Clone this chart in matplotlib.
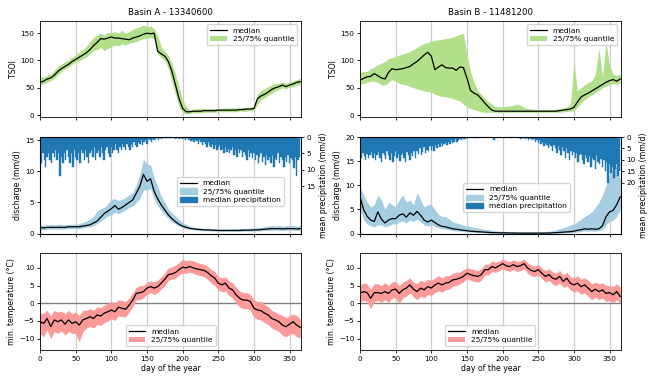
import numpy as np
import matplotlib
matplotlib.use("Agg")
import matplotlib.pyplot as plt
from matplotlib.patches import Patch
from matplotlib.lines import Line2D

# day of year grid (every 5 days) for discharge / TSOI / temperature
days = list(range(0, 366, 5))
# day grid (every 2 days) for precipitation
pdays = list(range(0, 366, 2))

tsoi_a_med = [60, 62, 66, 68, 73, 80, 85, 89, 93, 98,
              102, 106, 110, 114, 120, 127, 133, 140, 139, 141,
              143, 141, 141, 140, 139, 138, 141, 143, 145, 148,
              150, 149, 150, 117, 112, 108, 98, 80, 55, 30,
              12, 6, 6, 7, 7, 7, 8, 8, 8, 8,
              9, 9, 9, 9, 9, 9, 10, 10, 11, 11,
              12, 30, 35, 38, 42, 47, 50, 52, 55, 52,
              55, 57, 60, 61]
tsoi_a_lo = [55, 57, 60, 63, 67, 74, 80, 84, 88, 93,
             97, 100, 103, 106, 112, 118, 120, 124, 118, 122,
             125, 128, 127, 130, 128, 132, 133, 135, 138, 140,
             141, 142, 140, 112, 105, 100, 85, 60, 38, 15,
             4, 2, 3, 4, 4, 4, 5, 5, 5, 5,
             6, 6, 6, 6, 6, 6, 7, 7, 7, 8,
             8, 20, 28, 32, 36, 40, 44, 47, 50, 48,
             51, 52, 55, 55]
tsoi_a_hi = [70, 70, 73, 75, 82, 89, 93, 98, 101, 106,
             110, 115, 120, 126, 134, 142, 147, 150, 146, 152,
             150, 153, 150, 155, 150, 153, 157, 160, 162, 165,
             162, 163, 158, 145, 125, 117, 108, 95, 75, 50,
             28, 15, 10, 11, 12, 12, 12, 12, 12, 12,
             12, 12, 13, 13, 13, 13, 13, 14, 14, 15,
             15, 38, 45, 48, 52, 55, 58, 58, 60, 58,
             60, 62, 65, 68]

tsoi_b_med = [64, 67, 70, 71, 76, 72, 68, 66, 78, 85,
              83, 84, 85, 87, 89, 94, 98, 104, 110, 115,
              108, 83, 88, 92, 87, 86, 86, 82, 88, 87,
              68, 45, 40, 37, 30, 22, 15, 9, 7, 7,
              7, 7, 7, 7, 7, 7, 7, 7, 7, 7,
              7, 7, 7, 7, 7, 7, 8, 9, 10, 11,
              14, 24, 33, 37, 40, 44, 48, 52, 56, 60,
              63, 65, 62, 66]
tsoi_b_lo = [56, 58, 60, 62, 62, 60, 55, 55, 60, 65,
             62, 58, 56, 55, 52, 50, 48, 46, 44, 43,
             42, 38, 36, 34, 33, 32, 30, 28, 26, 20,
             15, 12, 10, 8, 6, 5, 5, 5, 5, 5,
             5, 5, 5, 5, 5, 5, 5, 5, 5, 5,
             5, 5, 5, 5, 5, 5, 5, 6, 6, 7,
             8, 15, 22, 28, 33, 37, 41, 45, 50, 53,
             56, 58, 56, 60]
tsoi_b_hi = [78, 80, 80, 85, 88, 92, 95, 98, 103, 105,
             107, 110, 112, 114, 117, 120, 124, 128, 131, 133,
             135, 137, 138, 139, 140, 141, 143, 145, 148, 150,
             110, 80, 60, 45, 38, 30, 25, 20, 16, 15,
             15, 16, 17, 18, 20, 18, 14, 12, 11, 10,
             10, 10, 10, 10, 10, 11, 12, 13, 15, 20,
             95, 45, 50, 55, 60, 62, 75, 122, 70, 135,
             90, 75, 72, 75]

q_a_med = [1.0, 0.9, 1.0, 1.0, 1.0, 1.0, 1.0, 1.0, 1.1, 1.1,
           1.1, 1.1, 1.2, 1.3, 1.4, 1.7, 2.0, 2.6, 3.2, 3.6,
           4.0, 4.5, 3.9, 4.2, 4.6, 5.0, 5.4, 6.5, 7.6, 9.5,
           8.4, 8.8, 6.8, 5.6, 4.6, 3.8, 3.0, 2.4, 1.9, 1.5,
           1.2, 1.0, 0.85, 0.75, 0.7, 0.65, 0.6, 0.6, 0.55, 0.55,
           0.5, 0.5, 0.5, 0.5, 0.5, 0.5, 0.5, 0.55, 0.55, 0.55,
           0.6, 0.6, 0.65, 0.7, 0.75, 0.8, 0.8, 0.8, 0.75, 0.8,
           0.8, 0.8, 0.75, 0.8]
q_a_lo = [0.6, 0.6, 0.7, 0.7, 0.7, 0.7, 0.7, 0.75, 0.8, 0.8,
          0.8, 0.8, 0.9, 1.0, 1.1, 1.3, 1.6, 2.0, 2.4, 2.8,
          3.0, 3.4, 3.2, 3.5, 3.8, 4.2, 4.4, 5.0, 5.6, 7.0,
          7.0, 7.2, 5.5, 4.5, 3.6, 3.0, 2.4, 1.9, 1.5, 1.2,
          0.95, 0.8, 0.7, 0.6, 0.55, 0.5, 0.45, 0.45, 0.42, 0.4,
          0.4, 0.38, 0.38, 0.38, 0.38, 0.38, 0.38, 0.4, 0.4, 0.4,
          0.42, 0.42, 0.45, 0.5, 0.5, 0.55, 0.55, 0.55, 0.5, 0.55,
          0.55, 0.55, 0.5, 0.55]
q_a_hi = [1.3, 1.4, 1.4, 1.5, 1.4, 1.5, 1.5, 1.4, 1.5, 1.5,
          1.5, 1.6, 1.8, 2.0, 2.3, 2.8, 3.6, 4.0, 4.2, 4.8,
          5.5, 5.6, 5.3, 5.5, 5.8, 6.2, 6.6, 7.8, 9.5, 12.0,
          11.2, 11.0, 9.0, 7.5, 6.0, 5.0, 4.0, 3.3, 2.8, 2.3,
          1.8, 1.5, 1.2, 1.05, 0.95, 0.9, 0.85, 0.85, 0.8, 0.8,
          0.75, 0.75, 0.75, 0.8, 0.8, 0.8, 0.8, 0.85, 0.85, 0.9,
          0.9, 1.0, 1.0, 1.1, 1.2, 1.3, 1.2, 1.3, 1.2, 1.3,
          1.3, 1.3, 1.2, 1.3]

p_a = [6, 8, 5, 7, 9, 6, 5, 7, 8, 5,
       6, 4, 7, 5, 12, 6, 8, 5, 7, 4,
       6, 8, 5, 9, 4, 6, 7, 5, 8, 4,
       5, 7, 4, 6, 8, 5, 4, 6, 3, 7,
       5, 4, 6, 3, 5, 7, 4, 3, 5, 6,
       3, 5, 4, 2, 4, 5, 3, 4, 2, 3,
       4, 2, 3, 4, 2, 3, 1.5, 2.5, 3, 1.5,
       2, 1, 2.5, 1.5, 1, 2, 0.5, 1, 1.5, 0.5,
       1, 0.5, 0.3, 0.8, 0.3, 0.5, 0.2, 0.4, 0.2, 0.3,
       0.2, 0.4, 0.1, 0.3, 0.2, 0.5, 0.2, 0.3, 0.6, 0.3,
       0.5, 0.3, 0.8, 0.4, 1, 0.6, 1.2, 0.8, 1.5, 1,
       1.2, 2, 1, 1.5, 2.5, 1.5, 2, 3, 1.5, 2.5,
       3, 2, 3.5, 2.5, 4, 3, 2.5, 4, 3.5, 5,
       3, 4.5, 3.5, 5, 4, 3, 5.5, 4, 6, 3.5,
       5, 4, 6, 4.5, 5.5, 7, 4, 6, 5, 6.5,
       5, 7, 5.5, 8, 6, 5, 7.5, 6, 8.5, 5.5,
       7, 6, 8, 5.5, 9, 6.5, 7, 5, 8, 6,
       7, 9, 6, 7.5, 5.5, 8, 6.5, 7, 9.5, 6,
       12, 7, 6]

q_b_med = [7.6, 5.0, 3.6, 2.8, 2.5, 4.5, 3.0, 2.2, 2.8, 3.1,
           3.1, 3.8, 4.1, 3.4, 4.3, 3.8, 4.6, 3.8, 2.8, 2.4,
           2.8, 2.3, 1.8, 1.5, 1.4, 1.2, 1.0, 0.9, 0.8, 0.7,
           0.6, 0.5, 0.45, 0.4, 0.35, 0.3, 0.25, 0.2, 0.2, 0.15,
           0.15, 0.15, 0.12, 0.12, 0.1, 0.1, 0.1, 0.1, 0.1, 0.1,
           0.1, 0.1, 0.1, 0.12, 0.15, 0.2, 0.25, 0.3, 0.35, 0.4,
           0.5, 0.7, 0.8, 1.0, 0.9, 1.0, 0.9, 1.0, 1.6, 3.5,
           4.5, 4.8, 6.0, 7.6]
q_b_lo = [5.0, 3.0, 2.0, 1.6, 1.4, 1.8, 1.8, 1.4, 1.6, 2.0,
          2.0, 2.4, 2.6, 2.2, 2.8, 2.5, 3.0, 2.4, 1.8, 1.6,
          1.8, 1.5, 1.2, 1.0, 0.9, 0.8, 0.65, 0.55, 0.5, 0.45,
          0.4, 0.3, 0.25, 0.2, 0.18, 0.15, 0.12, 0.1, 0.1, 0.08,
          0.08, 0.06, 0.05, 0.05, 0.05, 0.05, 0.05, 0.05, 0.05, 0.05,
          0.05, 0.05, 0.05, 0.06, 0.08, 0.1, 0.12, 0.15, 0.18, 0.2,
          0.25, 0.35, 0.45, 0.55, 0.5, 0.55, 0.5, 0.6, 0.8, 1.8,
          2.5, 2.8, 3.5, 5.0]
q_b_hi = [9.5, 8.0, 6.5, 5.5, 6.0, 8.0, 7.0, 5.0, 6.5, 6.0,
          5.5, 7.0, 8.0, 6.5, 7.0, 6.0, 8.5, 7.0, 5.5, 6.0,
          6.0, 5.0, 4.0, 3.5, 3.5, 3.0, 2.5, 2.2, 2.0, 1.8,
          1.6, 1.5, 1.3, 1.2, 1.0, 0.9, 0.8, 0.7, 0.6, 0.5,
          0.5, 0.45, 0.4, 0.4, 0.35, 0.35, 0.35, 0.35, 0.35, 0.35,
          0.35, 0.35, 0.4, 0.5, 0.6, 0.8, 1.0, 1.2, 1.5, 1.8,
          2.0, 2.5, 3.0, 3.5, 4.0, 4.5, 5.5, 6.5, 8.0, 10.0,
          12.0, 13.5, 14.0, 11.0]

p_b = [8, 9, 7, 8.5, 10, 7.5, 9, 8, 6.5, 9,
       7, 10, 8, 6.5, 9, 11, 7, 8, 9.5, 6,
       8, 10, 7, 11, 8.5, 6, 9, 7.5, 10.5, 8,
       7, 9, 11, 6.5, 8, 10, 7, 8.5, 6, 9,
       6, 7.5, 5, 8, 6.5, 4.5, 7, 5.5, 6, 4,
       5.5, 4, 6, 3.5, 5, 3, 4.5, 2.5, 4, 3,
       2.5, 3.5, 2, 3, 1.5, 2.5, 2, 1, 2, 1.5,
       1, 1.5, 0.5, 1, 0.8, 0.3, 0.6, 0.2, 0.5, 0.2,
       0.3, 0.1, 0.4, 0.1, 0.2, 0.1, 0.3, 0.1, 0.1, 0.2,
       0.1, 0.1, 0.2, 0.1, 1.5, 0.1, 0.1, 0.2, 0.1, 0.1,
       0.1, 0.3, 0.1, 0.1, 0.2, 0.1, 0.5, 0.1, 0.2, 0.1,
       0.2, 0.5, 0.3, 0.8, 0.2, 0.6, 1, 0.4, 1.2, 0.5,
       1, 1.5, 0.8, 2, 1.2, 2.5, 1.5, 3, 2, 4,
       2.5, 3.5, 5, 3, 4, 6, 3.5, 5, 7, 4,
       5.5, 8, 4.5, 6, 9, 5, 7, 10, 6, 8,
       6.5, 9, 7, 11, 8, 7.5, 10, 12, 8, 9,
       11, 8.5, 13, 9, 10, 14, 8, 11, 12, 9.5,
       13, 10, 15, 11, 20, 12, 16, 13, 18, 14,
       12, 17, 15]

t_a_med = [-5.2, -5.7, -4.3, -6.6, -4.7, -5.2, -4.7, -5.9, -4.7, -5.7,
           -5.2, -6.2, -4.7, -4.3, -3.8, -4.3, -3.3, -3.6, -2.8, -2.4,
           -1.9, -2.4, -1.1, -1.4, -1.7, -0.5, 0.9, 2.8, 3.0, 3.3,
           4.3, 4.7, 4.3, 4.7, 5.7, 6.8, 8.1, 8.3, 8.7, 9.5,
           10.2, 10.0, 10.4, 10.0, 9.7, 9.5, 9.3, 8.7, 7.8, 7.1,
           5.7, 5.2, 5.7, 4.3, 3.8, 2.4, 1.4, 0.9, 0.9, 0.5,
           -1.4, -1.9, -2.1, -2.8, -3.3, -4.3, -4.7, -5.2, -6.2, -6.6,
           -5.9, -5.2, -6.2, -6.8]
t_a_lo = [-8.5, -9.5, -7.5, -10.0, -8.0, -8.5, -7.8, -9.0, -8.0, -8.5,
          -8.5, -11.0, -8.0, -7.0, -6.5, -7.0, -6.0, -6.2, -5.5, -5.0,
          -4.5, -4.8, -3.5, -3.8, -3.8, -2.5, -1.0, 1.0, 1.0, 1.5,
          2.5, 3.0, 2.5, 3.0, 4.0, 5.0, 6.5, 6.8, 7.0, 8.0,
          8.5, 8.5, 8.8, 8.5, 8.0, 7.8, 7.5, 6.8, 5.8, 5.0,
          3.8, 3.2, 3.5, 2.2, 1.5, 0.0, -1.0, -1.5, -1.5, -2.0,
          -4.0, -4.5, -4.8, -5.5, -6.0, -7.0, -7.5, -8.0, -9.0, -9.5,
          -8.8, -8.5, -9.5, -9.8]
t_a_hi = [-3.0, -2.8, -2.0, -3.5, -2.0, -2.5, -2.2, -3.0, -2.0, -3.0,
          -2.5, -3.5, -2.0, -2.0, -1.5, -2.0, -1.0, -1.2, -0.5, 0.0,
          0.5, 0.0, 1.0, 0.8, 0.5, 1.5, 3.0, 4.5, 5.0, 5.0,
          6.0, 6.3, 6.0, 6.5, 7.5, 8.5, 10.0, 10.3, 10.8, 11.5,
          12.5, 12.0, 12.2, 12.0, 11.5, 11.3, 11.0, 10.5, 9.5, 9.0,
          7.5, 7.2, 7.5, 6.3, 5.8, 4.5, 3.5, 3.0, 3.0, 2.5,
          1.0, 0.5, 0.5, -0.3, -1.0, -2.0, -2.5, -3.0, -3.5, -4.0,
          -3.5, -3.0, -3.5, -4.5]

t_b_med = [2.8, 3.3, 3.0, 1.4, 3.0, 3.0, 2.8, 3.3, 2.8, 3.8,
           4.0, 2.8, 3.8, 4.3, 5.2, 4.0, 3.3, 4.3, 3.8, 4.7,
           4.3, 5.2, 5.7, 5.2, 5.7, 5.9, 6.6, 6.8, 7.1, 7.6,
           8.5, 8.1, 7.8, 7.6, 8.1, 9.5, 9.5, 10.4, 10.0, 10.6,
           11.2, 10.6, 10.4, 10.9, 10.4, 10.6, 11.2, 10.0, 9.3, 9.0,
           9.5, 8.5, 7.6, 8.1, 7.1, 6.8, 7.6, 6.2, 7.1, 5.7,
           5.2, 5.7, 4.7, 5.2, 4.3, 3.3, 4.0, 3.3, 3.8, 2.8,
           3.0, 2.4, 3.3, 1.9]
t_b_lo = [0.5, 0.8, 0.5, -1.5, 0.5, 0.8, 0.3, 1.0, 0.2, 1.5,
          1.5, 0.0, 1.5, 2.0, 3.0, 1.8, 1.0, 2.0, 1.5, 2.5,
          2.2, 3.0, 3.5, 3.2, 3.8, 4.0, 4.8, 5.0, 5.5, 6.0,
          7.0, 6.5, 6.2, 6.0, 6.5, 8.0, 8.0, 9.0, 8.7, 9.2,
          9.8, 9.3, 9.0, 9.5, 9.0, 9.2, 9.8, 8.5, 7.8, 7.5,
          8.0, 7.0, 6.0, 6.5, 5.5, 5.0, 5.8, 4.5, 5.0, 3.8,
          3.2, 3.5, 2.5, 3.0, 2.0, 1.0, 1.8, 1.0, 1.5, 0.5,
          0.8, 0.2, 1.0, 0.0]
t_b_hi = [5.0, 5.8, 5.5, 4.0, 5.5, 5.5, 5.0, 5.8, 5.0, 6.0,
          6.2, 5.0, 6.0, 6.5, 7.2, 6.0, 5.5, 6.5, 6.0, 6.8,
          6.5, 7.2, 7.8, 7.2, 7.8, 7.8, 8.5, 8.8, 8.8, 9.5,
          10.0, 9.8, 9.5, 9.2, 9.8, 11.0, 11.0, 12.0, 11.5, 12.0,
          12.5, 12.0, 11.8, 12.3, 11.8, 12.0, 12.5, 11.5, 10.8, 10.5,
          11.0, 10.0, 9.2, 9.8, 8.8, 8.5, 9.3, 8.0, 8.8, 7.5,
          7.2, 7.8, 6.8, 7.2, 6.5, 5.5, 6.0, 5.5, 5.8, 5.0,
          5.0, 4.8, 5.5, 4.5]

titles = ["Basin A - 13340600", "Basin B - 11481200"]
xticks = [0, 50, 100, 150, 200, 250, 300, 350]

C_GREEN = "#b2df8a"
C_LBLUE = "#a6cee3"
C_DBLUE = "#1f78b4"
C_RED = "#fb9a99"

FS_TICK = 5.2
FS_LAB = 5.6
FS_TITLE = 6.2
FS_LEG = 5.4

fig, axes = plt.subplots(3, 2, figsize=(6.54, 3.82), dpi=100, sharex=True)
fig.subplots_adjust(left=0.0612, right=0.9495, top=0.946, bottom=0.0838,
                    hspace=0.205, wspace=0.226)

basins = [
    dict(tsoi=(tsoi_a_med, tsoi_a_lo, tsoi_a_hi), q=(q_a_med, q_a_lo, q_a_hi), p=p_a,
         t=(t_a_med, t_a_lo, t_a_hi), qlim=15.5, plim=29.4, pticks=[0, 5, 10, 15],
         qleg=(0.73, 0.435)),
    dict(tsoi=(tsoi_b_med, tsoi_b_lo, tsoi_b_hi), q=(q_b_med, q_b_lo, q_b_hi), p=p_b,
         t=(t_b_med, t_b_lo, t_b_hi), qlim=20, plim=42.4, pticks=[0, 5, 10, 15, 20],
         qleg=(0.6, 0.37)),
]

for col, b in enumerate(basins):
    ax1, ax2, ax3 = axes[0, col], axes[1, col], axes[2, col]
    for ax in (ax1, ax2, ax3):
        ax.grid(axis="x", color="#cccccc", linewidth=0.9)
        ax.set_axisbelow(True)
        ax.tick_params(labelsize=FS_TICK, length=2.5, width=0.6, pad=1.5)
        for s in ax.spines.values():
            s.set_linewidth(0.6)

    # TSOI
    med, lo, hi = b["tsoi"]
    ax1.fill_between(days, lo, hi, color=C_GREEN, linewidth=0, label="25/75% quantile")
    ax1.plot(days, med, color="black", lw=0.9, label="median")
    ax1.set_ylim(-4, 173)
    ax1.set_yticks([0, 50, 100, 150])
    ax1.set_ylabel("TSOI", fontsize=FS_LAB, labelpad=2)
    ax1.set_title(titles[col], fontsize=FS_TITLE, pad=4)
    h, l = ax1.get_legend_handles_labels()
    ax1.legend([h[1], h[0]], [l[1], l[0]], loc="upper right", fontsize=FS_LEG,
               framealpha=0.8, handlelength=2.2, borderpad=0.4, labelspacing=0.3)

    # discharge + precipitation
    med, lo, hi = b["q"]
    ax2.fill_between(days, lo, hi, color=C_LBLUE, linewidth=0)
    ax2.plot(days, med, color="black", lw=0.9)
    ax2.set_ylim(0, b["qlim"])
    ax2.set_yticks([v for v in [0, 5, 10, 15, 20] if v <= b["qlim"]])
    ax2.set_ylabel("discharge (mm/d)", fontsize=FS_LAB, labelpad=2)
    axp = ax2.twinx()
    axp.bar(pdays, b["p"], width=2.0, color=C_DBLUE, linewidth=0.3,
            edgecolor=C_DBLUE)
    axp.set_ylim(b["plim"], 0)
    axp.set_yticks(b["pticks"])
    axp.tick_params(labelsize=FS_TICK, length=2.5, width=0.6, pad=1.5)
    axp.set_ylabel("mean precipitation (mm/d)", fontsize=FS_LAB, labelpad=2)
    handles = [Line2D([], [], color="black", lw=0.9),
               Patch(color=C_LBLUE), Patch(color=C_DBLUE)]
    axp.legend(handles, ["median", "25/75% quantile", "median precipitation"],
               loc="center", bbox_to_anchor=b["qleg"], fontsize=FS_LEG,
               framealpha=0.8, handlelength=2.2, borderpad=0.4, labelspacing=0.3)

    # temperature
    med, lo, hi = b["t"]
    ax3.axhline(0, color="gray", lw=1.0, zorder=1)
    ax3.fill_between(days, lo, hi, color=C_RED, linewidth=0, label="25/75% quantile")
    ax3.plot(days, med, color="black", lw=0.9, label="median")
    ax3.set_ylim(-13.2, 14.1)
    ax3.set_yticks([-10, -5, 0, 5, 10])
    ax3.set_ylabel("min. temperature (°C)", fontsize=FS_LAB, labelpad=2)
    ax3.set_xlabel("day of the year", fontsize=FS_LAB, labelpad=2)
    h, l = ax3.get_legend_handles_labels()
    ax3.legend([h[1], h[0]], [l[1], l[0]], loc="lower center", fontsize=FS_LEG,
               framealpha=0.8, handlelength=2.2, borderpad=0.4, labelspacing=0.3)

    ax3.set_xlim(0, 366)
    ax3.set_xticks(xticks)

fig.savefig("out.png", dpi=100)
